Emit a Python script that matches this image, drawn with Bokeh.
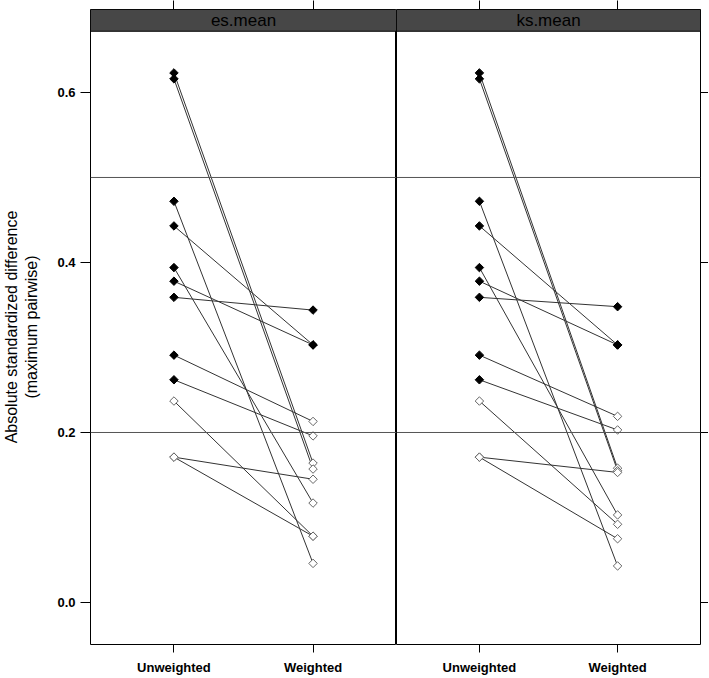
import numpy as np
from bokeh.plotting import figure
from bokeh.layouts import row
from bokeh.models import (FactorRange, Range1d, BoxAnnotation, Span, Label,
                          CategoricalAxis, LinearAxis, FixedTicker,
                          NumeralTickFormatter, CustomJSTickFormatter, ColumnDataSource)
from bokeh.embed import file_html
from bokeh.resources import INLINE

# ---------------- data ----------------
groups = ["Unweighted", "Weighted"]
panels = ["es.mean", "ks.mean"]

unweighted = [0.623, 0.616, 0.472, 0.443, 0.394, 0.378, 0.359, 0.291, 0.262, 0.237, 0.171, 0.171]
unweighted_sig = [True, True, True, True, True, True, True, True, True, False, False, False]

es_weighted = [0.164, 0.157, 0.046, 0.303, 0.117, 0.303, 0.344, 0.213, 0.196, 0.078, 0.145, 0.078]
es_weighted_sig = [False, False, False, True, False, True, True, False, False, False, False, False]

ks_weighted = [0.158, 0.155, 0.043, 0.303, 0.103, 0.303, 0.348, 0.219, 0.203, 0.092, 0.153, 0.075]
ks_weighted_sig = [False, False, False, True, False, True, True, False, False, False, False, False]

y_ticks = [0.0, 0.2, 0.4, 0.6]
ref_lines = [0.2, 0.5]
y_label = "Absolute standardized difference\n(maximum pairwise)"

# ---------------- style / layout ----------------
FONT = "Liberation Sans"
Y_START, Y_END = -0.0494, 0.6976
STRIP_BOTTOM = 0.672
FRAME_H = 635
BLANK = CustomJSTickFormatter(code="return ''")


def make_panel(name, weighted, w_sig, first):
    p = figure(x_range=FactorRange(*groups, range_padding=0.1),
               y_range=Range1d(Y_START, Y_END),
               frame_width=306 if first else 304, frame_height=FRAME_H,
               output_backend="svg", toolbar_location=None,
               x_axis_location=None, y_axis_location=None,
               min_border_left=90 if first else 0, min_border_right=0,
               min_border_top=9, min_border_bottom=0,
               background_fill_color="white", border_fill_color="white")
    p.outline_line_color = "black"
    p.outline_line_width = 1
    p.outline_line_alpha = 1
    p.xgrid.visible = False
    p.ygrid.visible = False

    below = CategoricalAxis(major_tick_out=8, major_tick_in=0, major_label_standoff=7,
                            major_label_text_font=FONT, major_label_text_font_style="bold",
                            major_label_text_font_size="13px", major_label_text_color="black",
                            axis_line_color=None, major_tick_line_color="black")
    p.add_layout(below, "below")
    above = CategoricalAxis(major_tick_out=9, major_tick_in=0, major_label_standoff=0,
                            formatter=BLANK, major_label_text_font_size="1px",
                            axis_line_color=None, major_tick_line_color="black")
    p.add_layout(above, "above")

    if first:
        yax = LinearAxis(ticker=FixedTicker(ticks=y_ticks, minor_ticks=[]),
                         formatter=NumeralTickFormatter(format="0.0"),
                         major_tick_out=10, major_tick_in=0, minor_tick_out=0, minor_tick_in=0,
                         major_label_standoff=5, major_label_text_font=FONT,
                         major_label_text_font_style="bold", major_label_text_font_size="13px",
                         major_label_text_color="black", axis_line_color=None,
                         major_tick_line_color="black",
                         axis_label=y_label, axis_label_text_font=FONT,
                         axis_label_text_font_style="normal", axis_label_text_font_size="16px",
                         axis_label_text_color="black", axis_label_standoff=14)
        p.add_layout(yax, "left")
    else:
        yax = LinearAxis(ticker=FixedTicker(ticks=y_ticks, minor_ticks=[]),
                         formatter=BLANK,
                         major_tick_out=8, major_tick_in=0, minor_tick_out=0, minor_tick_in=0,
                         major_label_standoff=0, major_label_text_font_size="1px",
                         axis_line_color=None, major_tick_line_color="black")
        p.add_layout(yax, "right")

    for v in ref_lines:
        p.add_layout(Span(location=v, dimension="width", line_color="#555555", line_width=1))

    n = len(unweighted)
    p.segment(x0=[groups[0]] * n, y0=unweighted, x1=[groups[1]] * n, y1=weighted,
              line_color="#333333", line_width=1)

    sig = list(unweighted_sig) + list(w_sig)
    src = ColumnDataSource(dict(
        x=[groups[0]] * n + [groups[1]] * n,
        y=list(unweighted) + list(weighted),
        fill=["black" if s else "white" for s in sig],
        line=["black" if s else "#666666" for s in sig],
    ))
    p.scatter(x="x", y="y", source=src, marker="square", angle=np.pi / 4, size=6,
              fill_color="fill", line_color="line", line_width=1)

    p.add_layout(BoxAnnotation(bottom=STRIP_BOTTOM, fill_color="#474747", fill_alpha=1,
                               line_color="black", line_width=1, line_alpha=1))
    p.add_layout(Label(x=len(groups) / 2, y=(STRIP_BOTTOM + Y_END) / 2, text=name,
                       text_align="center", text_baseline="middle",
                       text_font=FONT, text_font_size="17px", text_color="black"))
    return p


p1 = make_panel(panels[0], es_weighted, es_weighted_sig, True)
p2 = make_panel(panels[1], ks_weighted, ks_weighted_sig, False)
layout = row(p1, p2)

open("out.html", "w").write(file_html(layout, INLINE))
